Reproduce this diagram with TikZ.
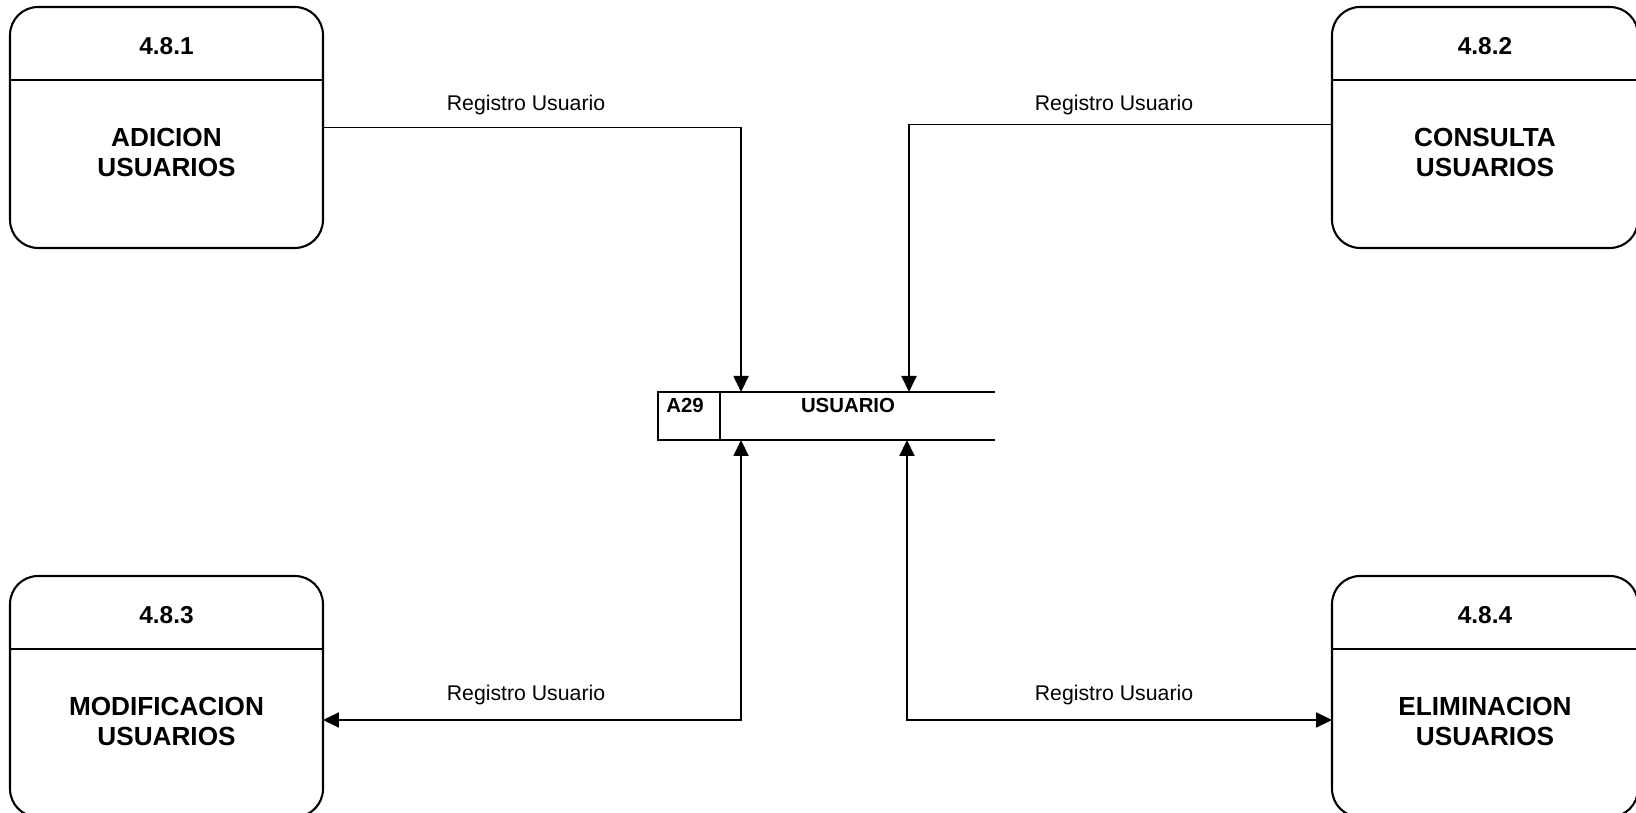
\documentclass[tikz,border=0pt]{standalone}
\usepackage{fontspec}
\setmainfont{Liberation Sans}
\usetikzlibrary{arrows.meta, positioning, calc}

\begin{document}
\begin{tikzpicture}[x=0.02cm, y=0.02cm, >={Triangle[length=0.32cm, width=0.3cm]},
  procbox/.style={draw, line width=1.2pt, rounded corners=0.56cm, minimum height=4.82cm,
                  inner sep=0pt, outer sep=0pt},
  proctitle/.style={font=\fontsize{13.9}{16}\selectfont\bfseries},
  procname/.style={font=\fontsize{14.9}{17.6}\selectfont\bfseries, align=center},
  storetext/.style={font=\fontsize{11.6}{14}\selectfont\bfseries, inner sep=0pt},
  flow/.style={line width=1.1pt},
  flowlabel/.style={font=\fontsize{12.1}{14}\selectfont}]

\useasboundingbox (0,0) rectangle (1636,813);
\clip (0,0) rectangle (1636,813);

% =============== PROCESSES ===============
\node[procbox, minimum width=6.26cm] (p1) at (166.5,685.5) {};
\node[procbox, minimum width=6.12cm] (p2) at (1485,685.5) {};
\node[procbox, minimum width=6.26cm] (p3) at (166.5,116.5) {};
\node[procbox, minimum width=6.12cm] (p4) at (1485,116.5) {};
\foreach \p/\num/\name in {p1/4.8.1/{ADICION\\USUARIOS}, p2/4.8.2/{CONSULTA\\USUARIOS},
                           p3/4.8.3/{MODIFICACION\\USUARIOS}, p4/4.8.4/{ELIMINACION\\USUARIOS}}{
  \draw[line width=1.2pt] ([yshift=-1.46cm]\p.north west) -- ([yshift=-1.46cm]\p.north east);
  \node[proctitle] (\p-num) at ([yshift=-0.78cm]\p.north) {\num};
  \node[procname] (\p-name) at ([yshift=-2.91cm]\p.north) {\name};
}

% =============== DATA STORE ===============
\node[minimum width=6.74cm, minimum height=0.96cm, inner sep=0pt, outer sep=0pt] (store) at (826.5,397) {};
\draw[line width=1.2pt] (store.north east) -- (store.north west) -- (store.south west) -- (store.south east);
\draw[line width=1.2pt] ([xshift=1.24cm]store.north west) -- ([xshift=1.24cm]store.south west);
\node[storetext, anchor=west] (store-id) at (666,408) {A29};
\node[storetext] (store-name) at (848,408) {USUARIO};

\coordinate (inA) at ([xshift=1.66cm]store.north west);
\coordinate (inB) at ([xshift=5.02cm]store.north west);
\coordinate (outA) at ([xshift=1.66cm]store.south west);
\coordinate (outB) at ([xshift=4.98cm]store.south west);

% =============== FLOWS ===============
\draw[flow, ->] (p1.east) -| (inA);
\draw[flow, ->] ([yshift=0.06cm]p2.west) -| (inB);
\draw[flow, <->] (outA) |- ([yshift=-0.47cm]p3.east);
\draw[flow, <->] (outB) |- ([yshift=-0.47cm]p4.west);

\node[flowlabel] (f1) at (526,708) {Registro Usuario};
\node[flowlabel] (f2) at (1114,708) {Registro Usuario};
\node[flowlabel] (f3) at (526,118) {Registro Usuario};
\node[flowlabel] (f4) at (1114,118) {Registro Usuario};

\end{tikzpicture}
\end{document}
